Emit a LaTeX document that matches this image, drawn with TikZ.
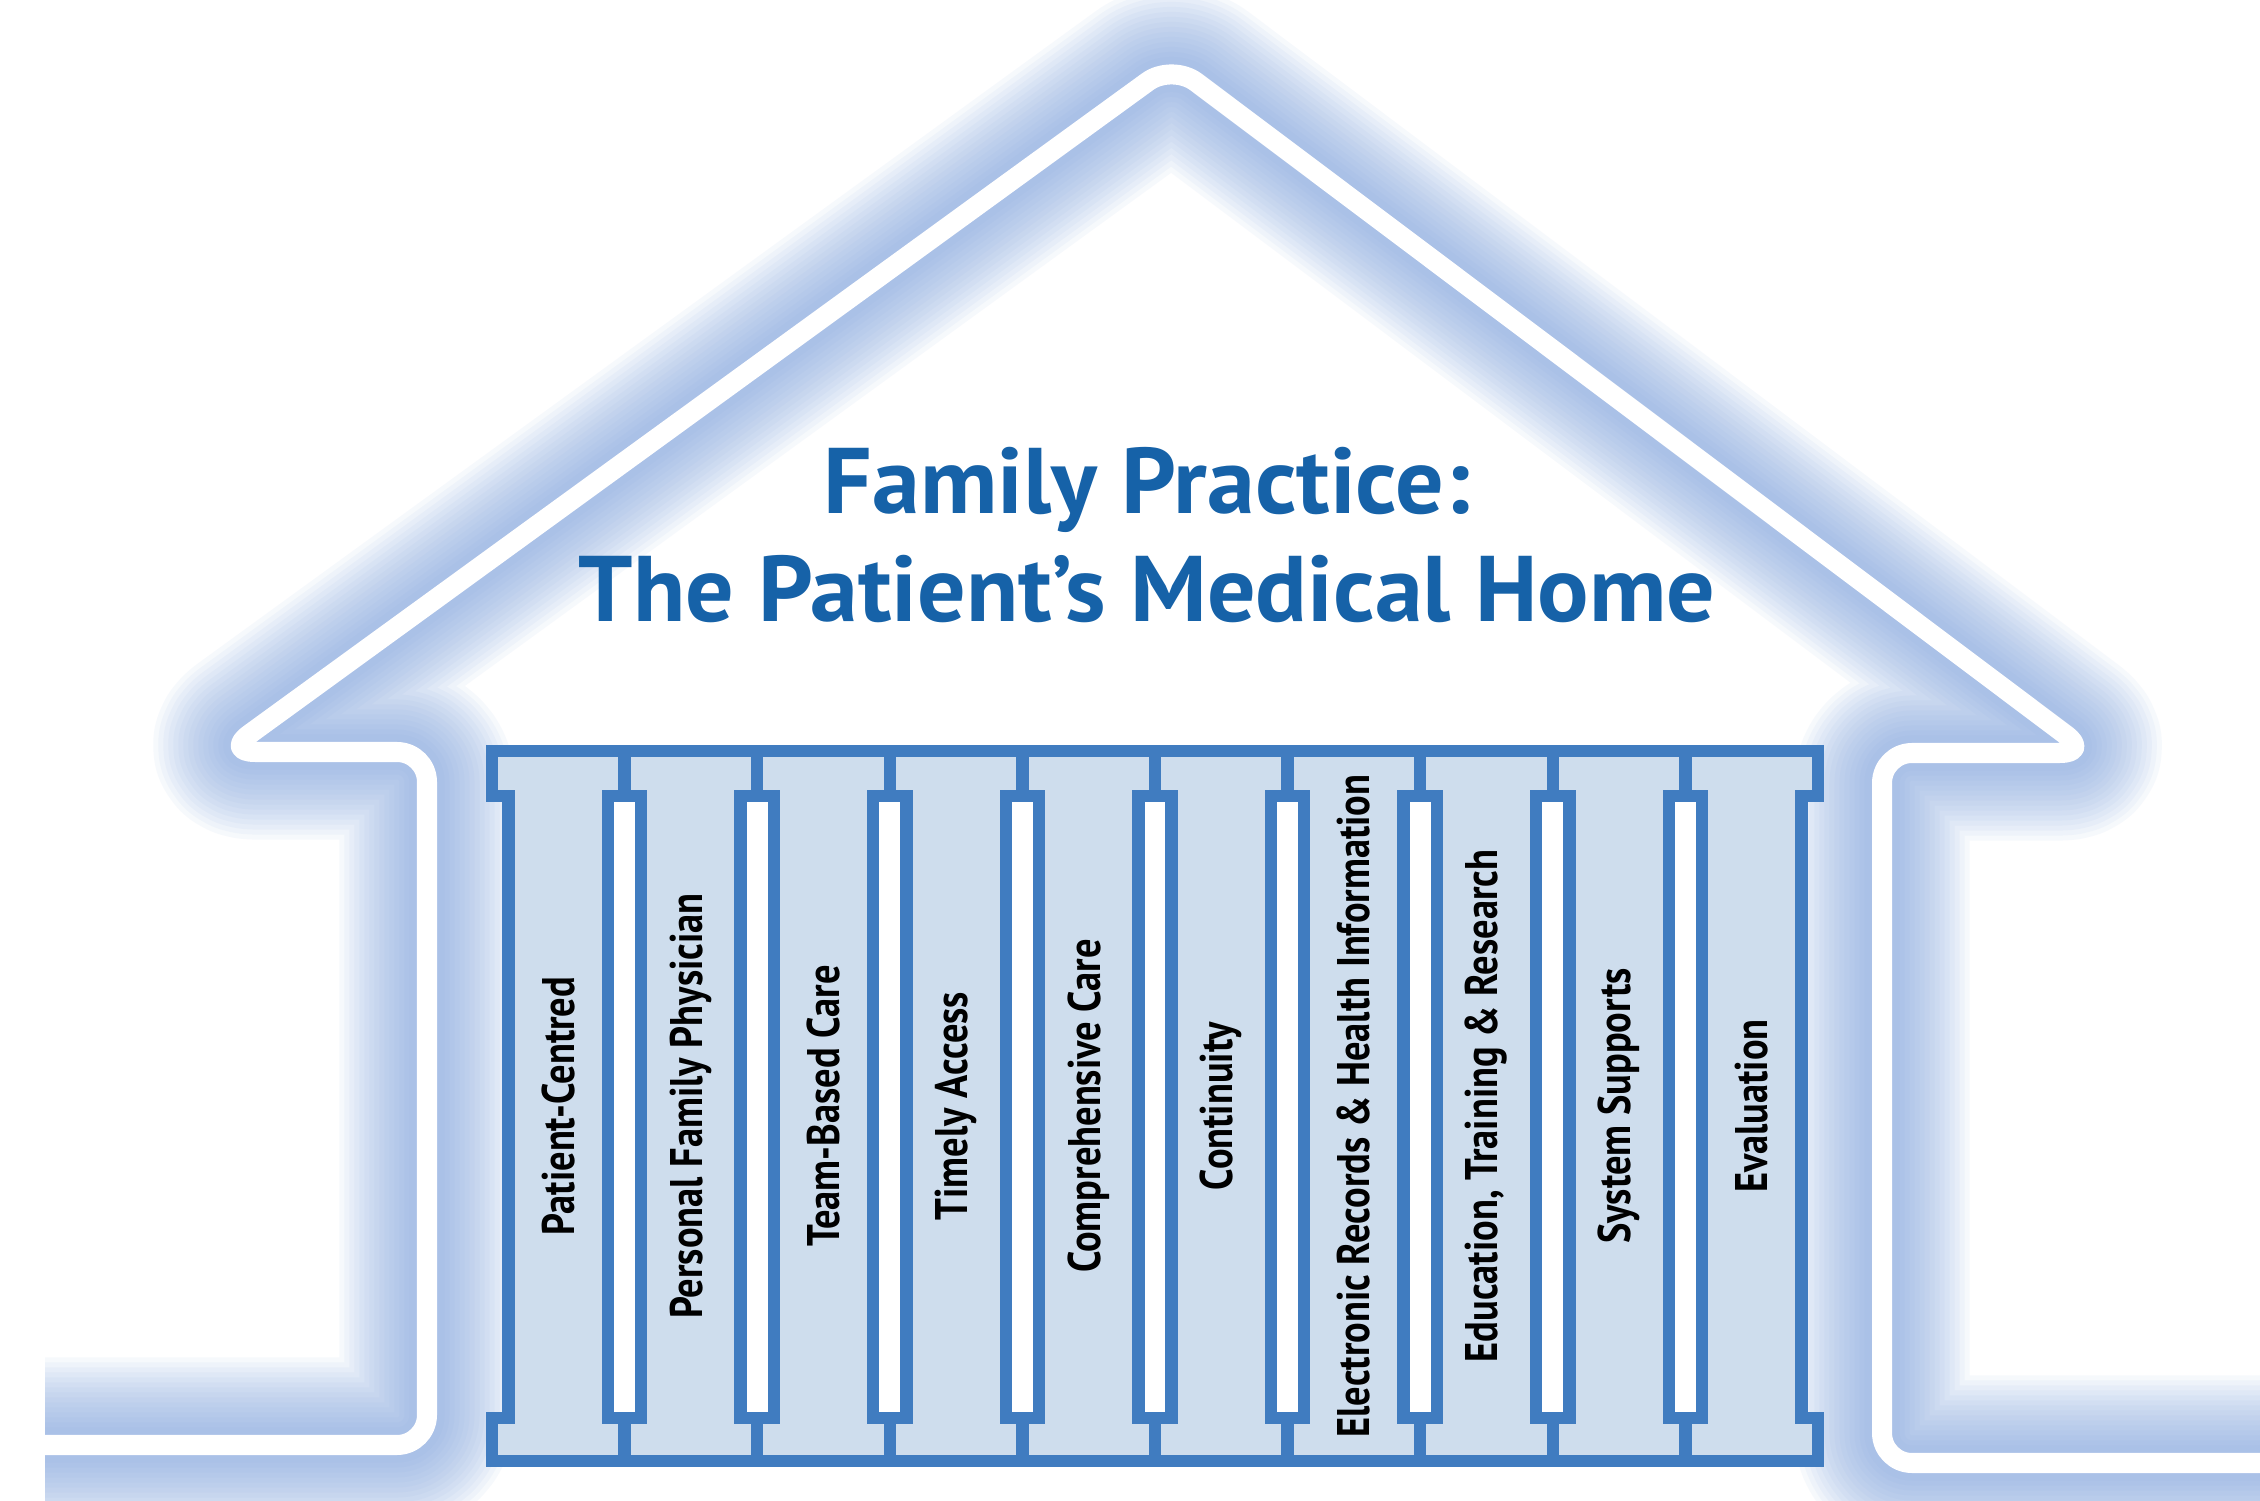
\documentclass[tikz,border=0pt]{standalone}
\usepackage{fontspec}
\newfontfamily\pmhfont[FakeStretch=0.84]{PT Sans}
\newfontfamily\pmhtitlefont[FakeStretch=1.03]{PT Sans}
\usetikzlibrary{positioning}
\definecolor{pillarblue}{RGB}{64,124,192}
\definecolor{pillarfill}{RGB}{206,221,237}
\definecolor{titleblue}{RGB}{22,98,168}
\definecolor{glowblue}{RGB}{130,166,223}

\begin{document}
\begin{tikzpicture}[x=0.01cm,y=-0.01cm,
    houseline/.style={line join=round,rounded corners=0.3cm},
    pillar/.style={draw=pillarblue,fill=pillarfill,line width=0.125cm},
    pillarlabel/.style={rotate=90,font=\pmhfont\bfseries\fontsize{13pt}{14pt}\selectfont},
    titletext/.style={anchor=base,text=titleblue,font=\pmhtitlefont\bfseries\fontsize{26.5pt}{30pt}\selectfont}]
	\useasboundingbox (0,0) rectangle (2260,1501);
	\fill[white] (0,0) rectangle (2260,1501);
	% outline of the house, glowing
	\begin{scope}
		\clip (45,0) rectangle (2260,1501);
		\foreach \w/\c/\o in {1.75/glowblue/0.065,1.65/glowblue/0.065,1.55/glowblue/0.065,1.45/glowblue/0.065,1.35/glowblue/0.065,1.25/glowblue/0.065,1.15/glowblue/0.065,1.05/glowblue/0.065,0.95/glowblue/0.065,0.85/glowblue/0.065,0.75/glowblue/0.065,0.65/glowblue/0.065,0.55/glowblue/0.065,0.45/glowblue/0.065,0.35/glowblue/0.065,0.2/white/1}
			\draw[houseline,line width=\w cm,draw=\c,draw opacity=\o] (45,1445) -- (427,1445) -- (427,752) -- (225,752) -- (1172,64) -- (2090,753) -- (1882,753) -- (1882,1463) -- (2260,1463);
	\end{scope}
	% the ten pillars
	\foreach \txt [count=\i, evaluate=\i as \xl using 492+(\i-1)*132.6] in {Patient-Centred,Personal Family Physician,Team-Based Care,Timely Access,Comprehensive Care,Continuity,Electronic Records \& Health Information,{Education, Training \& Research},System Supports,Evaluation}{
		\draw[pillar] (\xl,751) -- (\xl+132.6,751) -- (\xl+132.6,796) -- (\xl+116,796) -- (\xl+116,1418) -- (\xl+132.6,1418) -- (\xl+132.6,1461) -- (\xl,1461) -- (\xl,1418) -- (\xl+16.6,1418) -- (\xl+16.6,796) -- (\xl,796) -- cycle;
		\node[pillarlabel] (pillar\i) at (\xl+66.3,1106) {\txt};
	}
	\node[titletext] (title) at (1147,514) {Family Practice:};
	\node[titletext] (subtitle) at (1147,622) {The Patient’s Medical Home};
\end{tikzpicture}
\end{document}
